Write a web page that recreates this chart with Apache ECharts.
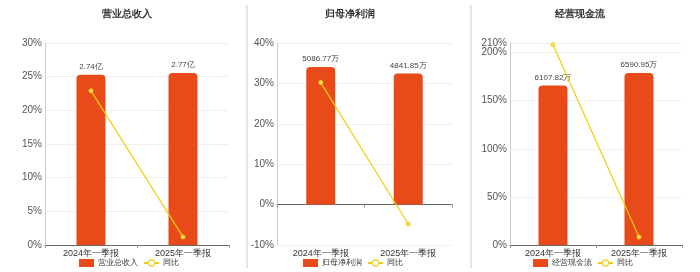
<!DOCTYPE html>
<html><head><meta charset="utf-8">
<script src="https://cdn.jsdelivr.net/npm/echarts@6/dist/echarts.min.js"></script>
<style>html,body{margin:0;padding:0;background:#fff}#c{width:700px;height:272px}</style>
</head><body><div id="c"></div>
<script>
const categories = ['2024年一季报', '2025年一季报'];
const titles = ['营业总收入', '归母净利润', '经营现金流'];
const units = ['亿', '万', '万'];
const revenue = [2.74, 2.77];
const revenueYoY = [22.9, 1.2];
const profit = [5086.77, 4841.85];
const profitYoY = [30.2, -4.8];
const cash = [6107.82, 6590.95];
const cashYoY = [208.2, 8.3];
const pctMin = [0, -10, 0];
const pctMax = [30, 40, 210];
const pctTicks = [
  [0, 5, 10, 15, 20, 25, 30],
  [-10, 0, 10, 20, 30, 40],
  [0, 50, 100, 150, 200]
];
const extraTicks = [[], [], [210]];

const barData = [revenue, profit, cash];
const lineData = [revenueYoY, profitYoY, cashYoY];

const grids = [
  {left: 45, right: 471, top: 43, bottom: 27},
  {left: 277, right: 248, top: 43, bottom: 27},
  {left: 510, right: 18, top: 43, bottom: 27}
];
const titleX = [127, 350, 580];
const legendX = [79, 303, 533];
const barColor = '#e84a19';
const lineColor = '#f2cf0c';

const option = {
  animation: false,
  textStyle: {fontFamily: 'sans-serif'},
  title: titles.map((t, i) => ({
    text: t, left: titleX[i], top: 9, padding: 0, textAlign: 'center',
    textStyle: {fontSize: 10, fontWeight: 'bold', color: '#333'}
  })),
  grid: grids,
  legend: titles.map((t, i) => ({
    left: legendX[i], top: 259, padding: 0, itemWidth: 15, itemHeight: 8, itemGap: 5,
    textStyle: {fontSize: 7.5, color: '#333', padding: [0, 0, 0, -1]},
    data: [{name: t, icon: 'rect'},
           {name: '同比', itemStyle: {color: '#fff', borderColor: lineColor, borderWidth: 1.2}}]
  })),
  xAxis: [0, 1, 2].map(i => ({
    type: 'category', gridIndex: i, data: categories,
    axisLine: {lineStyle: {color: '#666'}},
    axisTick: {show: true, lineStyle: {color: '#999'}, length: 3},
    axisLabel: {fontSize: 9, color: '#333', margin: 4}
  })),
  yAxis: [],
  series: [],
  graphic: [
    {type: 'line', shape: {x1: 247, y1: 5, x2: 247, y2: 268}, style: {stroke: '#ddd', lineWidth: 1.5}},
    {type: 'line', shape: {x1: 471, y1: 5, x2: 471, y2: 268}, style: {stroke: '#ddd', lineWidth: 1.5}}
  ]
};

for (let i = 0; i < 3; i++) {
  const bmax = Math.max(...barData[i]) * 1.174;
  const ratio = pctMin[i] / pctMax[i];
  const pctIdx = option.yAxis.length;
  option.yAxis.push({
    type: 'value', gridIndex: i, position: 'left', min: pctMin[i], max: pctMax[i],
    axisLine: {show: true, lineStyle: {color: '#ccc'}},
    axisTick: {show: false, customValues: pctTicks[i]},
    axisLabel: {formatter: '{value}%', fontSize: 10, color: '#555', margin: 3,
      customValues: pctTicks[i], showMaxLabel: true, showMinLabel: true, hideOverlap: false},
    splitLine: {lineStyle: {color: '#f0f0f0'}}
  });
  const barIdx = option.yAxis.length;
  option.yAxis.push({
    type: 'value', gridIndex: i, position: 'right', min: bmax * ratio, max: bmax, show: false,
    splitLine: {show: false}
  });
  if (extraTicks[i].length) {
    option.yAxis.push({
      type: 'value', gridIndex: i, position: 'left', min: pctMin[i], max: pctMax[i],
      axisLine: {show: false}, axisTick: {show: false, customValues: extraTicks[i]},
      axisLabel: {formatter: '{value}%', fontSize: 10, color: '#555', margin: 3,
        customValues: extraTicks[i], showMaxLabel: true},
      splitLine: {lineStyle: {color: '#f0f0f0'}}
    });
  }
  option.series.push({
    type: 'bar', name: titles[i], xAxisIndex: i, yAxisIndex: barIdx,
    data: barData[i], barWidth: 29,
    itemStyle: {color: barColor, borderRadius: [4, 4, 0, 0]},
    label: {show: true, position: 'top', fontSize: 8, color: '#444', distance: 4,
      formatter: p => p.value + units[i]}
  });
  option.series.push({
    type: 'line', name: '同比', xAxisIndex: i, yAxisIndex: pctIdx,
    data: lineData[i], symbol: 'circle', symbolSize: 4,
    lineStyle: {color: lineColor, width: 1.2},
    itemStyle: {color: '#f7e06a', borderColor: lineColor, borderWidth: 1}
  });
}
const chart = echarts.init(document.getElementById('c'));
chart.setOption(option);
</script></body></html>
